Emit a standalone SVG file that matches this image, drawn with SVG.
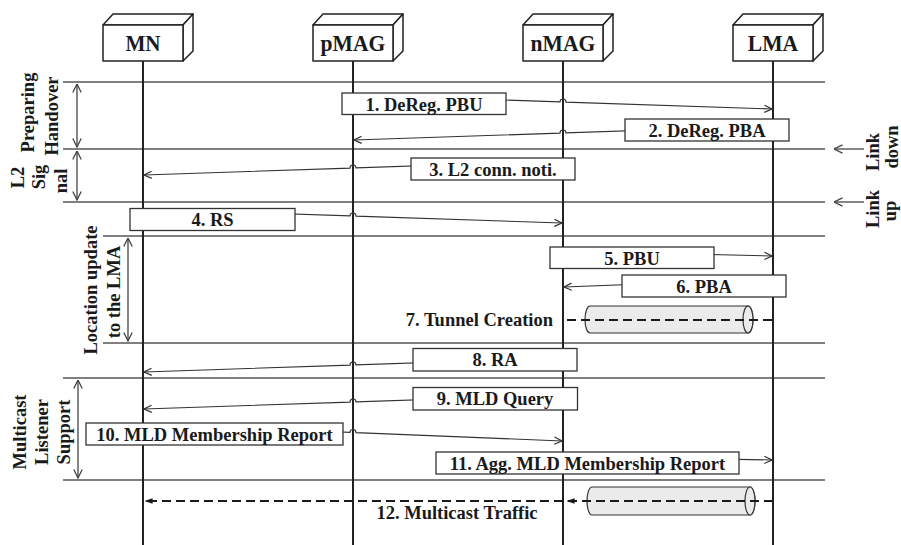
<svg xmlns="http://www.w3.org/2000/svg" width="901" height="545" viewBox="0 0 901 545">
  <defs>
    <style>
      text { font-family: "Liberation Serif", "Times New Roman", serif; font-weight: bold; fill: #1a1a1a; }
      .node-label { font-size: 23.5px; text-anchor: middle; }
      .msg-label { font-size: 18.5px; text-anchor: middle; }
      .side-label { font-size: 18.5px; text-anchor: middle; }
      .box-face { fill: #ffffff; stroke: #222; stroke-width: 1.5; stroke-linejoin: round; }
      .lifeline { stroke: #222; stroke-width: 2; }
      .sep { stroke: #555; stroke-width: 1.3; }
      .msg-box { fill: #ffffff; stroke: #333; stroke-width: 1.3; }
      .msg { fill: none; stroke: #333; stroke-width: 1.1; marker-end: url(#open); }
      .bracket { stroke: #444; stroke-width: 1.3; marker-start: url(#openBig); marker-end: url(#openBig); }
      .link-arrow { stroke: #444; stroke-width: 1.3; marker-end: url(#openBig); }
      .dashed { fill: none; stroke: #1a1a1a; stroke-width: 2.2; stroke-dasharray: 9 5; }
      .tunnel { fill: #ebebeb; stroke: #333; stroke-width: 1.2; }
    </style>
    <marker id="open" viewBox="0 0 10 10" refX="9.5" refY="5" markerWidth="9" markerHeight="9" markerUnits="userSpaceOnUse" orient="auto">
      <path d="M1,1 L9.5,5 L1,9" fill="none" stroke="#333" stroke-width="1.3"/>
    </marker>
    <marker id="openBig" viewBox="0 0 10 10" refX="9.5" refY="5" markerWidth="10" markerHeight="10" markerUnits="userSpaceOnUse" orient="auto-start-reverse">
      <path d="M1,0.8 L9.5,5 L1,9.2" fill="none" stroke="#444" stroke-width="1.3"/>
    </marker>
    <marker id="filled" viewBox="0 0 10 10" refX="9.5" refY="5" markerWidth="8" markerHeight="8" markerUnits="userSpaceOnUse" orient="auto">
      <path d="M0,1.5 L10,5 L0,8.5 Z" fill="#1a1a1a"/>
    </marker>
  </defs>

  <rect width="901" height="545" fill="#ffffff"/>

  <!-- phase separators -->
  <g id="separators">
    <line class="sep" x1="63" y1="82" x2="825" y2="82"/>
    <line class="sep" x1="63" y1="149" x2="825" y2="149"/>
    <line class="sep" x1="63" y1="202" x2="825" y2="202"/>
    <line class="sep" x1="103" y1="236" x2="825" y2="236"/>
    <line class="sep" x1="103" y1="343" x2="825" y2="343"/>
    <line class="sep" x1="63" y1="378" x2="825" y2="378"/>
    <line class="sep" x1="63" y1="480" x2="825" y2="480"/>
  </g>

  <!-- phase brackets and side labels -->
  <g id="phase-preparing">
    <line class="bracket" x1="77" y1="84" x2="77" y2="147"/>
    <text class="side-label" transform="translate(34,112.5) rotate(-90)">Preparing</text>
    <text class="side-label" transform="translate(58,116) rotate(-90)">Handover</text>
  </g>
  <g id="phase-l2">
    <line class="bracket" x1="77" y1="151" x2="77" y2="200"/>
    <text class="side-label" transform="translate(24,177.5) rotate(-90)">L2</text>
    <text class="side-label" transform="translate(45,177) rotate(-90)">Sig</text>
    <text class="side-label" transform="translate(67,181) rotate(-90)">nal</text>
  </g>
  <g id="phase-location">
    <line class="bracket" x1="128" y1="238" x2="128" y2="341"/>
    <text class="side-label" transform="translate(97,290) rotate(-90)">Location update</text>
    <text class="side-label" transform="translate(120,292) rotate(-90)">to the LMA</text>
  </g>
  <g id="phase-multicast">
    <line class="bracket" x1="78" y1="380" x2="78" y2="478"/>
    <text class="side-label" transform="translate(25.5,432) rotate(-90)">Multicast</text>
    <text class="side-label" transform="translate(48,432) rotate(-90)">Listener</text>
    <text class="side-label" transform="translate(70,432) rotate(-90)">Support</text>
  </g>
  <g id="link-down">
    <line class="link-arrow" x1="864" y1="149" x2="834" y2="149"/>
    <text class="side-label" transform="translate(879,152) rotate(-90)">Link</text>
    <text class="side-label" transform="translate(898,147) rotate(-90)">down</text>
  </g>
  <g id="link-up">
    <line class="link-arrow" x1="864" y1="202" x2="834" y2="202"/>
    <text class="side-label" transform="translate(879,209) rotate(-90)">Link</text>
    <text class="side-label" transform="translate(896,211) rotate(-90)">up</text>
  </g>

  <!-- entities with lifelines -->
  <g id="MN">
    <line class="lifeline" x1="143" y1="61" x2="143" y2="545"/>
    <path class="box-face" d="M103,25 L113,14 L193,14 L183,25 Z"/>
    <path class="box-face" d="M183,25 L193,14 L193,51 L183,61 Z"/>
    <rect class="box-face" x="103" y="25" width="80" height="36"/>
    <text class="node-label" transform="translate(143,51) scale(0.9,1)">MN</text>
  </g>
  <g id="pMAG">
    <line class="lifeline" x1="353" y1="61" x2="353" y2="545"/>
    <path class="box-face" d="M313,25 L323,14 L403,14 L393,25 Z"/>
    <path class="box-face" d="M393,25 L403,14 L403,51 L393,61 Z"/>
    <rect class="box-face" x="313" y="25" width="80" height="36"/>
    <text class="node-label" transform="translate(353,51) scale(0.92,1)">pMAG</text>
  </g>
  <g id="nMAG">
    <line class="lifeline" x1="563" y1="61" x2="563" y2="545"/>
    <path class="box-face" d="M523,25 L533,14 L613,14 L603,25 Z"/>
    <path class="box-face" d="M603,25 L613,14 L613,51 L603,61 Z"/>
    <rect class="box-face" x="523" y="25" width="80" height="36"/>
    <text class="node-label" transform="translate(563,51) scale(0.92,1)">nMAG</text>
  </g>
  <g id="LMA">
    <line class="lifeline" x1="773" y1="61" x2="773" y2="545"/>
    <path class="box-face" d="M733,25 L743,14 L823,14 L813,25 Z"/>
    <path class="box-face" d="M813,25 L823,14 L823,51 L813,61 Z"/>
    <rect class="box-face" x="733" y="25" width="80" height="36"/>
    <text class="node-label" transform="translate(773,51) scale(0.92,1)">LMA</text>
  </g>

  <!-- tunnels -->
  <g id="tunnels">
    <path class="tunnel" d="M590,306 H748 A5,13.5 0 0 1 748,333 H590 A5,13.5 0 0 1 590,306 Z"/>
    <ellipse class="tunnel" cx="748" cy="319.5" rx="5" ry="13.5"/>
    <path class="tunnel" d="M592,487 H750 A5,14 0 0 1 750,515 H592 A5,14 0 0 1 592,487 Z"/>
    <ellipse class="tunnel" cx="750" cy="501" rx="5" ry="14"/>
  </g>

  <!-- message connectors -->
  <g id="connectors">
    <path class="msg" d="M353,95 L560,101.9 A3,3 0 0 1 566,102.1 L772,109"/>
    <path class="msg" d="M773,126 L566,132.9 A3,3 0 0 0 560,133.1 L354,140"/>
    <path class="msg" d="M563,161 L356,167.9 A3,3 0 0 0 350,168.1 L144,175"/>
    <path class="msg" d="M143,209 L350,215.9 A3,3 0 0 1 356,216.1 L562,223"/>
    <path class="msg" d="M563,251 L772,256"/>
    <path class="msg" d="M773,279 L564,287"/>
    <path class="msg" d="M563,358 L356,364.9 A3,3 0 0 0 350,365.1 L144,372"/>
    <path class="msg" d="M563,395 L356,401.9 A3,3 0 0 0 350,402.1 L144,409"/>
    <path class="msg" d="M143,424 L350,432.4 A3,3 0 0 1 356,432.6 L562,441"/>
    <path class="msg" d="M563,456 L772,460"/>
    <path class="dashed" d="M567,320 H773"/>
    <path class="dashed" d="M773,501 H567" marker-end="url(#filled)"/>
    <path class="dashed" d="M563,501 H145" marker-end="url(#filled)"/>
  </g>

  <!-- message labels -->
  <g id="msg1">
    <rect class="msg-box" x="342" y="93" width="164" height="21.5"/>
    <text class="msg-label" x="424" y="110.5">1. DeReg. PBU</text>
  </g>
  <g id="msg2">
    <rect class="msg-box" x="625" y="119" width="164" height="22"/>
    <text class="msg-label" x="707" y="136.5">2. DeReg. PBA</text>
  </g>
  <g id="msg3">
    <rect class="msg-box" x="411" y="158" width="164" height="22"/>
    <text class="msg-label" x="493" y="175.5">3. L2 conn. noti.</text>
  </g>
  <g id="msg4">
    <rect class="msg-box" x="130" y="208.5" width="165" height="22"/>
    <text class="msg-label" x="212.5" y="226">4. RS</text>
  </g>
  <g id="msg5">
    <rect class="msg-box" x="550" y="247" width="164" height="21.5"/>
    <text class="msg-label" x="632" y="264.5">5. PBU</text>
  </g>
  <g id="msg6">
    <rect class="msg-box" x="622" y="275" width="164" height="22"/>
    <text class="msg-label" x="704" y="292.5">6. PBA</text>
  </g>
  <g id="msg7">
    <text class="msg-label" x="553" y="325.5" style="text-anchor:end">7. Tunnel Creation</text>
  </g>
  <g id="msg8">
    <rect class="msg-box" x="413" y="348.5" width="164" height="22.5"/>
    <text class="msg-label" x="495" y="366">8. RA</text>
  </g>
  <g id="msg9">
    <rect class="msg-box" x="413" y="387.5" width="164.5" height="22.5"/>
    <text class="msg-label" x="495" y="405">9. MLD Query</text>
  </g>
  <g id="msg10">
    <rect class="msg-box" x="86" y="423" width="257" height="22"/>
    <text class="msg-label" x="214.5" y="440.5">10. MLD Membership Report</text>
  </g>
  <g id="msg11">
    <rect class="msg-box" x="436" y="452" width="303" height="22"/>
    <text class="msg-label" x="587.5" y="469.5">11. Agg. MLD Membership Report</text>
  </g>
  <g id="msg12">
    <text class="msg-label" x="457" y="519">12. Multicast Traffic</text>
  </g>
</svg>
